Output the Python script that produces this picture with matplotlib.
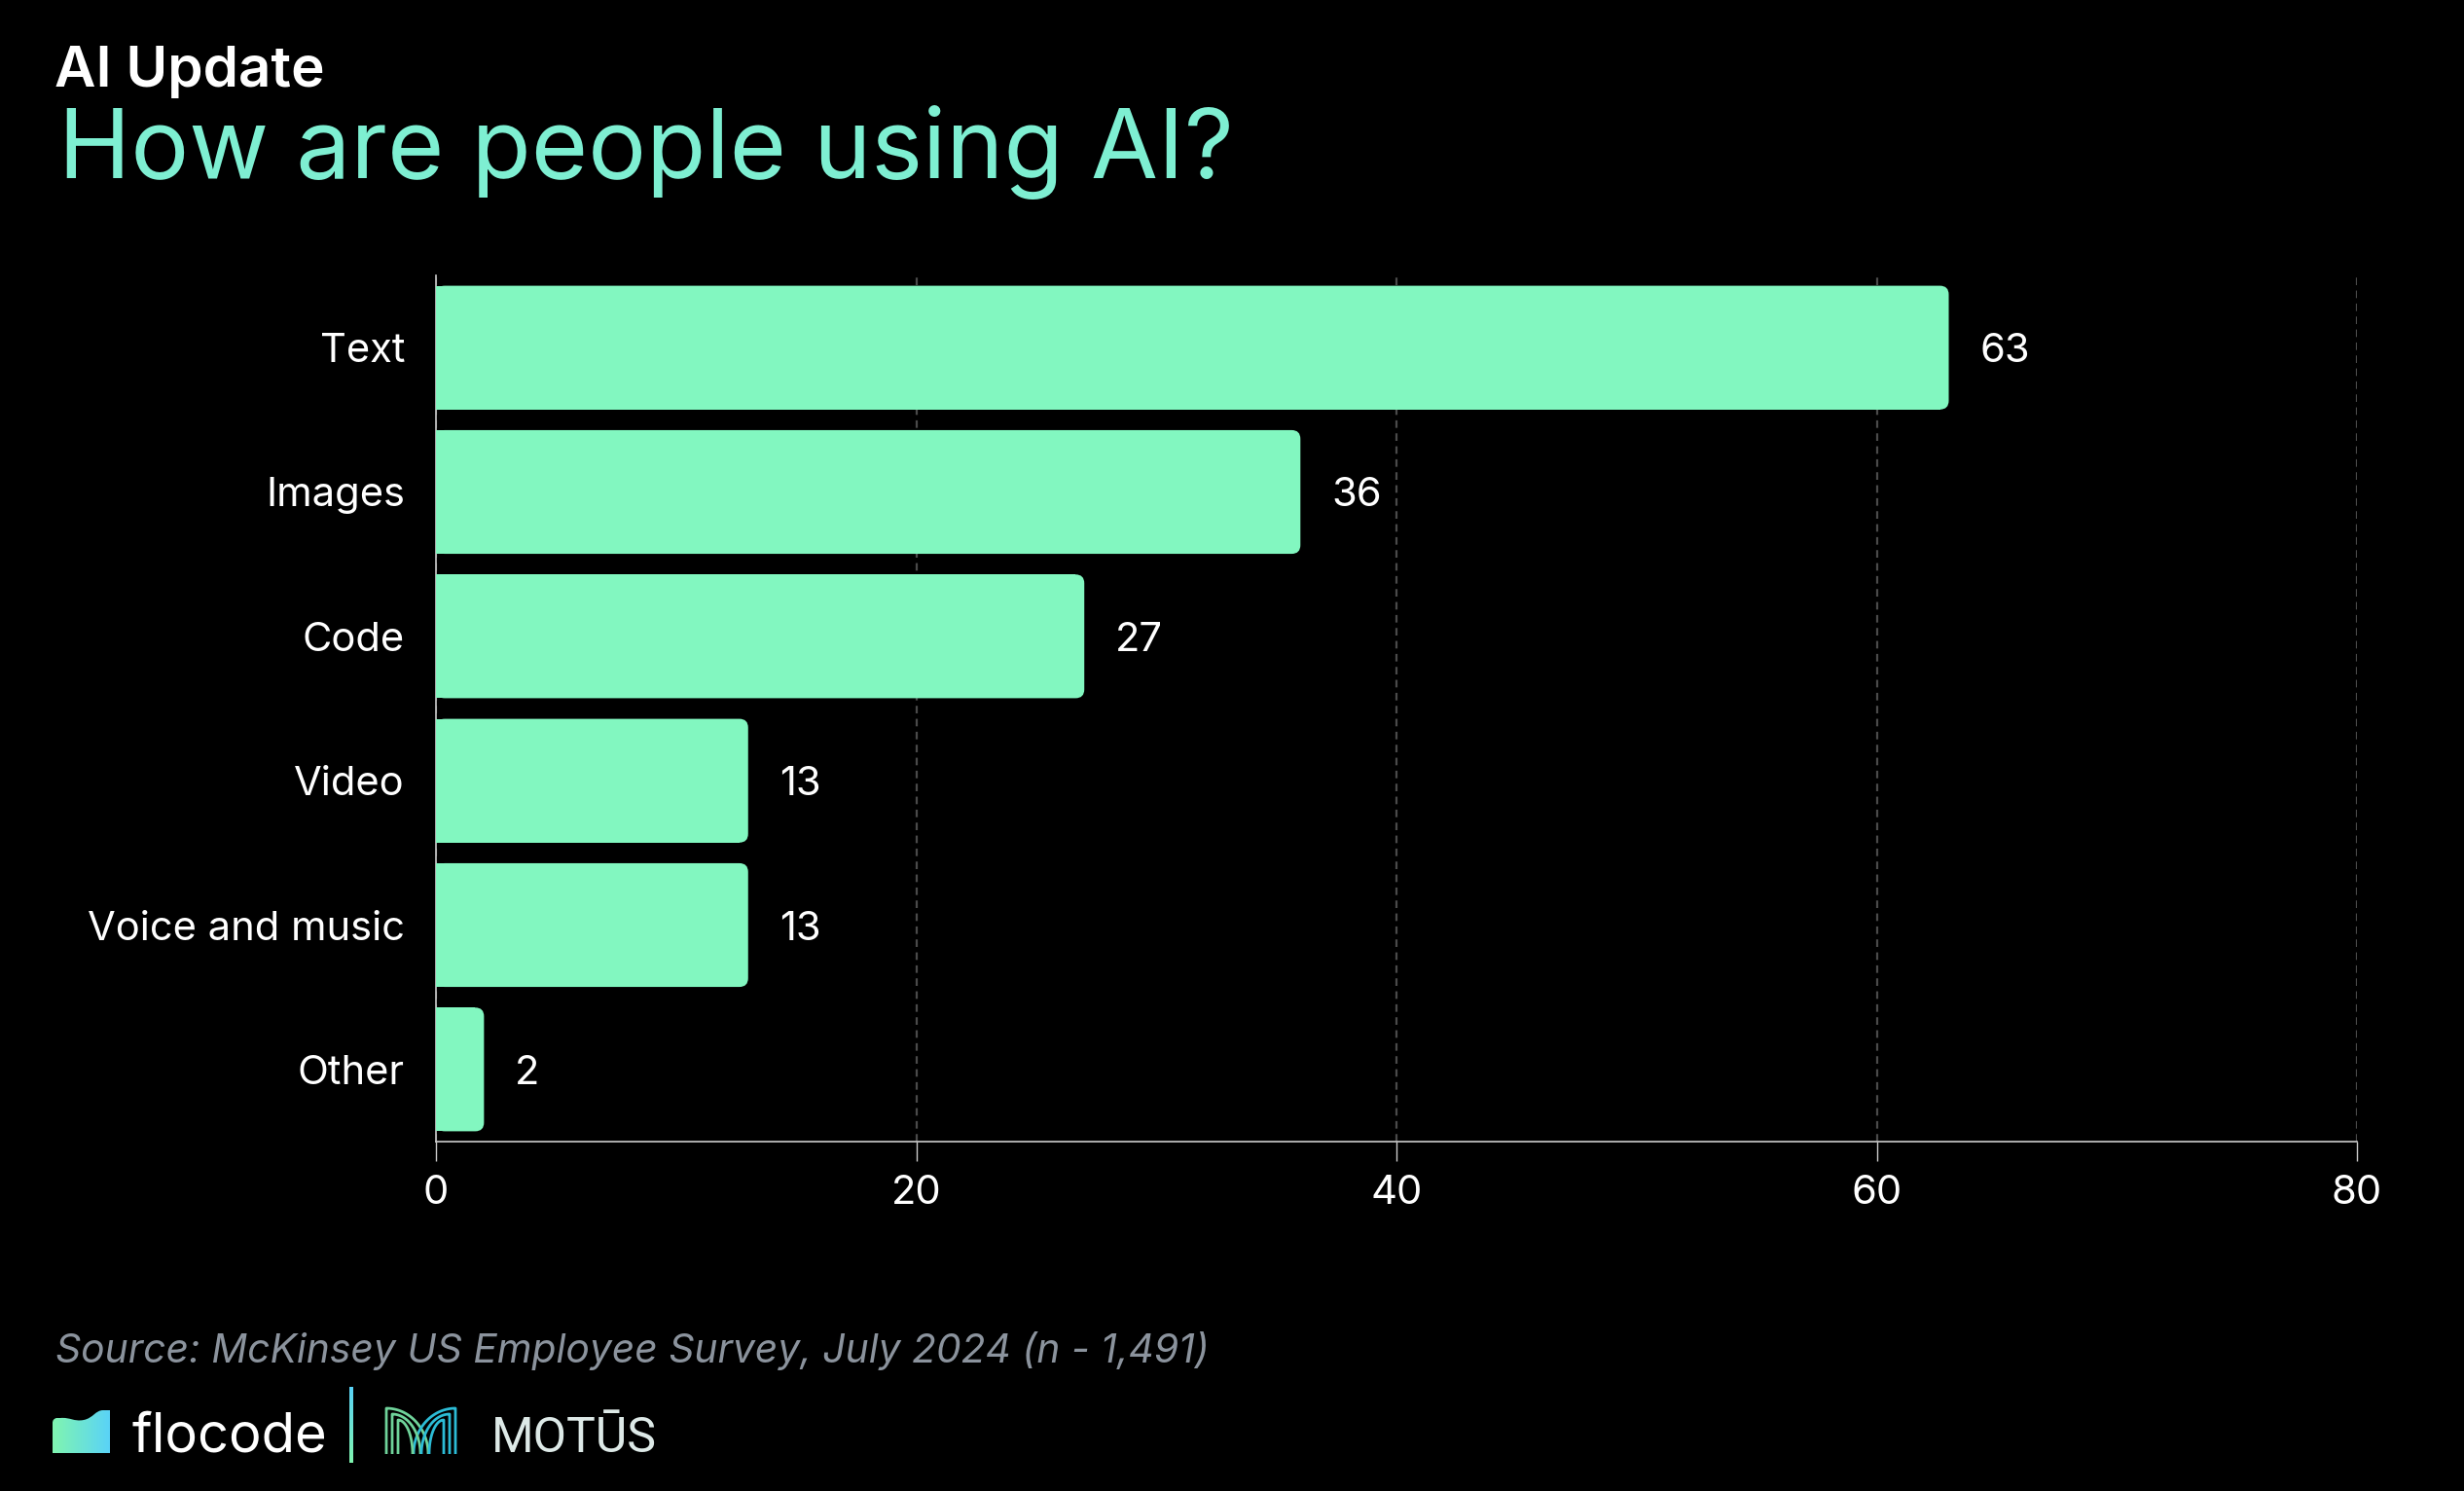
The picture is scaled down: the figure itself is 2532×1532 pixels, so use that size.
import numpy as np
import matplotlib
matplotlib.use("Agg")
import matplotlib.pyplot as plt
from matplotlib.patches import FancyBboxPatch, PathPatch
from matplotlib.path import Path
from matplotlib.colors import LinearSegmentedColormap

# data
categories = ["Text", "Images", "Code", "Video", "Voice and music", "Other"]
values = [63, 36, 27, 13, 13, 2]
xticks = [0, 20, 40, 60, 80]

BG = "black"
BAR = "#82f7c0"
W, H = 2532, 1532

plt.rcParams["font.family"] = ["Inter", "DejaVu Sans"]

fig = plt.figure(figsize=(W / 200, H / 200), dpi=200, facecolor=BG)

# main chart, placed in pixel terms of the reference
ax_l, ax_r, ax_t, ax_b = 448, 2422, 283, 1173
ax = fig.add_axes([ax_l / W, (H - ax_b) / H, (ax_r - ax_l) / W, (ax_b - ax_t) / H])
ax.set_facecolor(BG)

ypos = np.arange(len(categories))
bar_h = 0.857
bars = ax.barh(ypos, values, height=bar_h, color=BAR, linewidth=0, zorder=3)

ax.set_xlim(0, 80)
ax.set_ylim(len(categories) - 0.5, -0.5)

# rounded right corners (radius ~9 px)
rx = 9 * 80 / (ax_r - ax_l)
ry = 9 * len(categories) / (ax_b - ax_t)
for b in bars:
    x0, y0, w, h = b.get_x(), b.get_y(), b.get_width(), b.get_height()
    ax.add_patch(FancyBboxPatch((x0, y0), w, h,
                                boxstyle=f"round,pad=0,rounding_size={rx}",
                                mutation_aspect=ry / rx, fc=BAR, ec="none", zorder=3))
    b.set_width(max(w - rx, 0))

for i, v in enumerate(values):
    ax.annotate(str(v), xy=(v, i), xytext=(11.5, 0), textcoords="offset points",
                va="center_baseline", ha="left", color="white", fontsize=15)

ax.set_yticks(ypos)
ax.set_yticklabels(categories)
ax.set_xticks(xticks)
ax.tick_params(axis="y", length=0, pad=11.5, labelsize=15, labelcolor="white")
ax.tick_params(axis="x", length=7.2, width=0.5, color="#cccccc", pad=5,
               labelsize=15, labelcolor="white")

ax.set_axisbelow(True)
ax.xaxis.grid(True, color="#4a4a4a", linestyle=(0, (3.5, 2.5)), linewidth=0.8)
for s in ["top", "right"]:
    ax.spines[s].set_visible(False)
for s in ["left", "bottom"]:
    ax.spines[s].set_color("#cccccc")
    ax.spines[s].set_linewidth(0.6)

# headings
fig.text(56 / W, 1 - 89 / H, "AI Update", color="white", fontsize=21,
         fontweight="semibold", ha="left", va="baseline")
fig.text(60 / W, 1 - 183 / H, "How are people using AI?", color="#7eefd2",
         fontsize=36, ha="left", va="baseline")

# source
fig.text(57 / W, 1 - 1400 / H, "Source: McKinsey US Employee Survey, July 2024 (n - 1,491)",
         color="#8b939d", fontsize=14.7, fontstyle="italic", ha="left", va="baseline")

# logos, drawn in pixel space
ov = fig.add_axes([0, 0, 1, 1], zorder=5)
ov.set_xlim(0, W)
ov.set_ylim(0, H)
ov.axis("off")
ov.patch.set_alpha(0)

grad = LinearSegmentedColormap.from_list("g", ["#80f5b0", "#5ad3f7"])
icon = Path([(54, 39), (54, 70), (54, 74), (58, 75), (62, 75),
             (72, 76), (76, 71), (86, 73),
             (96, 75), (98, 83), (106, 83),
             (113, 83), (113, 39), (54, 39)],
            [Path.MOVETO, Path.LINETO, Path.CURVE3, Path.CURVE3, Path.LINETO,
             Path.CURVE4, Path.CURVE4, Path.CURVE4,
             Path.CURVE4, Path.CURVE4, Path.CURVE4,
             Path.LINETO, Path.LINETO, Path.CLOSEPOLY])
clip = PathPatch(icon, transform=ov.transData, fc="none", ec="none")
im = ov.imshow(np.linspace(0, 1, 64)[None, :], extent=(54, 113, 39, 83), cmap=grad,
               aspect="auto", interpolation="bilinear")
im.set_clip_path(clip)

fig.text(135 / W, 1 - 1492 / H, "flocode", color="white", fontsize=20.2,
         ha="left", va="baseline")

sep = LinearSegmentedColormap.from_list("s", ["#80f5b0", "#5ad3f7"])
ov.imshow(np.linspace(0, 1, 64)[:, None], extent=(359, 363, 29, 107), cmap=sep,
          aspect="auto", origin="lower", interpolation="bilinear")
ov.set_xlim(0, W)
ov.set_ylim(0, H)

# M mark: nested arches, green from the left, cyan from the right
t = np.linspace(np.pi / 2, 0, 40)
yb = 38
for i in range(3):
    xl = 397 + 6 * i
    yt = 85 - 6 * i
    a = 43 - 14 * i
    xs = np.concatenate([[xl], xl + a * np.cos(t)])
    ys = np.concatenate([[yb], yb + (yt - yb) * np.sin(t)])
    ov.plot(xs, ys, color="#6fd39a", lw=1.0, solid_capstyle="butt")
    ov.plot(2 * 432.5 - xs, ys, color="#2cbcd6", lw=1.0, solid_capstyle="butt")

fig.text(505 / W, 1 - 1492 / H, "MOTŪS", color="#dde9e7", fontsize=18,
         family=["Roboto", "DejaVu Sans"], ha="left", va="baseline")

fig.savefig("out.png", dpi=200, facecolor=BG)
